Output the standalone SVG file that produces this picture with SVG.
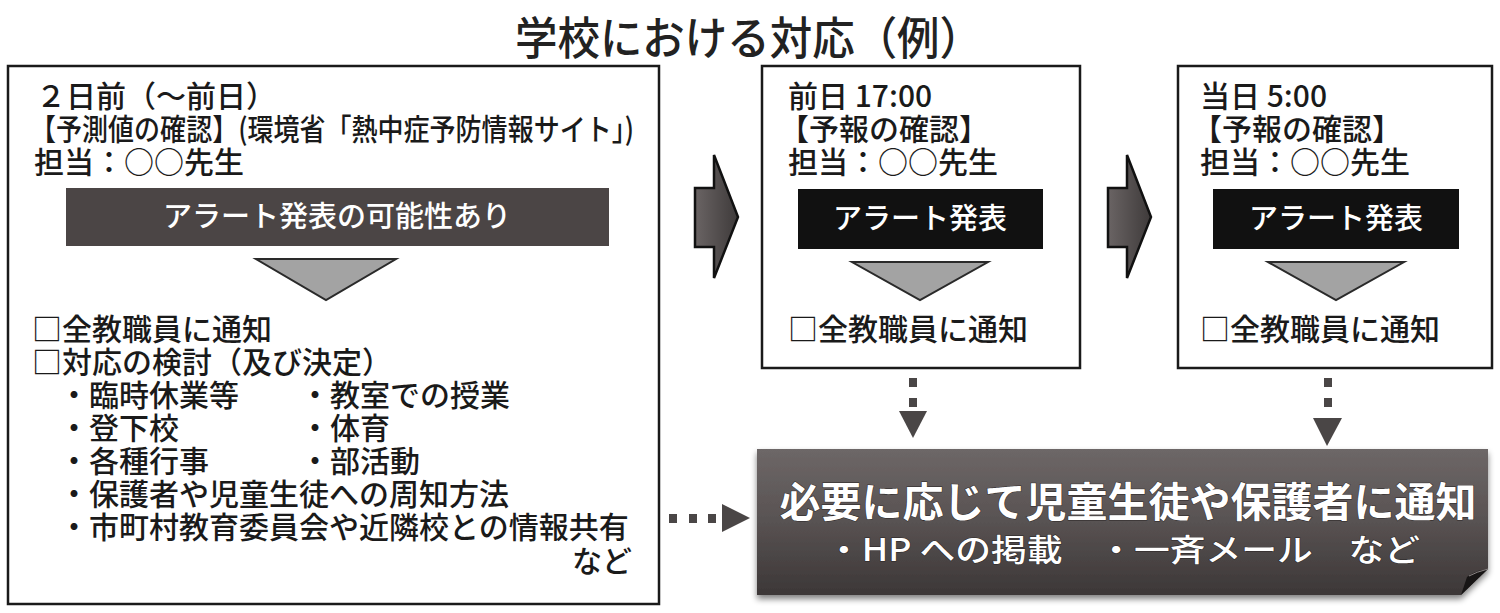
<svg xmlns="http://www.w3.org/2000/svg" width="1500" height="613" viewBox="0 0 1500 613">
<defs>
<linearGradient id="banner" x1="0" y1="0" x2="0" y2="1">
<stop offset="0" stop-color="#6d6767"/>
<stop offset="0.5" stop-color="#585252"/>
<stop offset="1" stop-color="#3c3737"/>
</linearGradient>
<linearGradient id="arrowG" x1="0" y1="0" x2="1" y2="0">
<stop offset="0" stop-color="#6a6464"/>
<stop offset="1" stop-color="#3e3a3a"/>
</linearGradient>
<filter id="shadow" x="-5%" y="-10%" width="110%" height="130%">
<feGaussianBlur in="SourceAlpha" stdDeviation="3"/>
<feOffset dx="0" dy="4" result="b"/>
<feComponentTransfer><feFuncA type="linear" slope="0.5"/></feComponentTransfer>
<feMerge><feMergeNode/><feMergeNode in="SourceGraphic"/></feMerge>
</filter>
</defs>
<style>
text{font-family:"Noto Sans CJK JP","Noto Sans CJK SC",sans-serif;fill:#1a1a1a;}
.t{font-size:30px;font-weight:500;}
.title{font-size:45px;font-weight:500;fill:#222;}
.w{fill:#fff;font-size:29px;font-weight:500;}
.box{fill:#fff;stroke:#1a1a1a;stroke-width:2.5;}
.tri{fill:#a3a3a3;stroke:#2a2a2a;stroke-width:2;}
.dot{fill:#4a4646;}
.big{fill:url(#arrowG);stroke:#111;stroke-width:2.5;stroke-linejoin:miter;}
.bt{fill:#fff;font-weight:700;stroke:#2a2525;stroke-width:1;paint-order:stroke;}
</style>

<text class="title" x="515" y="55" textLength="467" lengthAdjust="spacingAndGlyphs">学校における対応（例）</text>

<g id="node-left">
<rect class="box" x="8" y="66" width="651" height="538"/>
<text class="t" x="36" y="107">２日前（～前日）</text>
<text class="t" x="30" y="140" textLength="604" lengthAdjust="spacingAndGlyphs">【予測値の確認】(環境省「熱中症予防情報サイト」)</text>
<text class="t" x="34" y="173">担当：○○先生</text>
<rect x="66" y="188" width="543" height="58" fill="#4b4545"/>
<text class="w" x="337" y="227" text-anchor="middle">アラート発表の可能性あり</text>
<polygon class="tri" points="256,259 396,259 326,300"/>
<text class="t" x="32" y="340">□全教職員に通知</text>
<text class="t" x="32" y="373">□対応の検討（及び決定）</text>
<text class="t" x="59" y="406">・臨時休業等</text>
<text class="t" x="300" y="406">・教室での授業</text>
<text class="t" x="59" y="439">・登下校</text>
<text class="t" x="300" y="439">・体育</text>
<text class="t" x="59" y="472">・各種行事</text>
<text class="t" x="300" y="472">・部活動</text>
<text class="t" x="59" y="505">・保護者や児童生徒への周知方法</text>
<text class="t" x="59" y="538">・市町村教育委員会や近隣校との情報共有</text>
<text class="t" x="632" y="572" text-anchor="end">など</text>
</g>

<g id="node-middle">
<rect class="box" x="762" y="66" width="318" height="302"/>
<text class="t" x="788" y="107">前日 17:00</text>
<text class="t" x="779" y="140">【予報の確認】</text>
<text class="t" x="788" y="173">担当：○○先生</text>
<rect x="798" y="189" width="245" height="60" fill="#111"/>
<text class="w" x="920" y="229" text-anchor="middle">アラート発表</text>
<polygon class="tri" points="852,262 988,262 920,300"/>
<text class="t" x="788" y="340">□全教職員に通知</text>
</g>

<g id="node-right">
<rect class="box" x="1178" y="66" width="314" height="302"/>
<text class="t" x="1200" y="107">当日 5:00</text>
<text class="t" x="1192" y="140">【予報の確認】</text>
<text class="t" x="1200" y="173">担当：○○先生</text>
<rect x="1213" y="189" width="246" height="60" fill="#111"/>
<text class="w" x="1336" y="229" text-anchor="middle">アラート発表</text>
<polygon class="tri" points="1268,262 1404,262 1336,300"/>
<text class="t" x="1200" y="340">□全教職員に通知</text>
</g>

<g id="node-notify">
<g filter="url(#shadow)">
<path d="M757,449 H1488 V569 L1461,595 H757 Z" fill="url(#banner)"/>
</g>
<path d="M1488,569 Q1474,571 1467,577 L1461,595 Z" fill="#171515"/>
<path d="M1488,569 Q1476,572 1469,576" fill="none" stroke="#8a8484" stroke-width="1"/>
<text class="bt" x="1128" y="517" text-anchor="middle" style="font-size:41px">必要に応じて児童生徒や保護者に通知</text>
<text class="bt" x="826" y="561" textLength="594" lengthAdjust="spacingAndGlyphs" style="font-size:31px;font-weight:500">・HP への掲載　・一斉メール　など</text>
</g>

<g id="connectors">
<path class="big" d="M695,188 H714 V155 L738,217 L714,278 V247 H695 Z"/>
<path class="big" d="M1108,188 H1127 V155 L1151,217 L1127,278 V247 H1108 Z"/>
<rect class="dot" x="909" y="378" width="8" height="9"/>
<rect class="dot" x="909" y="398" width="8" height="9"/>
<polygon class="dot" points="899,411 927,411 913,438"/>
<rect class="dot" x="1324" y="378" width="8" height="9"/>
<rect class="dot" x="1324" y="398" width="8" height="9"/>
<polygon class="dot" points="1313,418 1342,418 1327,446"/>
<rect class="dot" x="669" y="514" width="8" height="9"/>
<rect class="dot" x="689" y="514" width="8" height="9"/>
<rect class="dot" x="708" y="514" width="8" height="9"/>
<polygon class="dot" points="722,504 750,518 722,532"/>
</g>
</svg>
